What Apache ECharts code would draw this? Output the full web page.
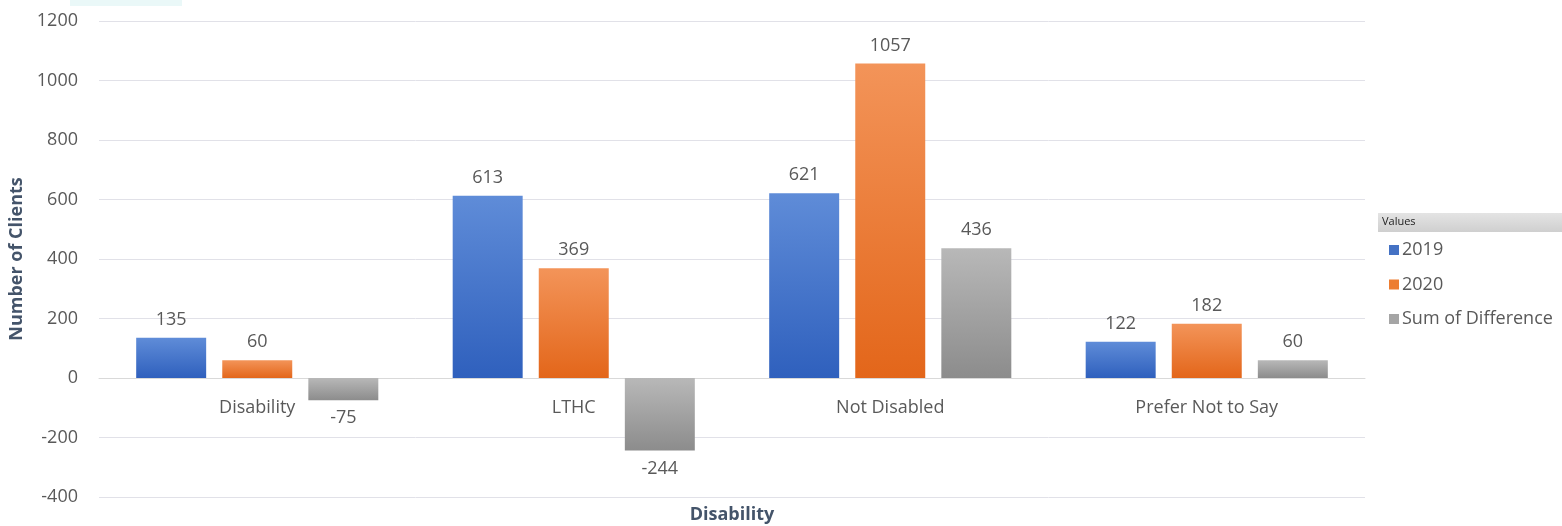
<!DOCTYPE html>
<html>
<head>
<meta charset="utf-8">
<script src="https://cdn.jsdelivr.net/npm/echarts@6/dist/echarts.min.js"></script>
<style>
  html, body { margin: 0; padding: 0; background: #ffffff; }
  #chart { width: 1562px; height: 526px; }
</style>
</head>
<body>
<div id="chart"></div>
<script>
// Clients by disability status, 2019 vs 2020, and the change between them
const categories = ['Disability', 'LTHC', 'Not Disabled', 'Prefer Not to Say'];
const clients2019 = [135, 613, 621, 122];
const clients2020 = [60, 369, 1057, 182];
const difference = [-75, -244, 436, 60];
const seriesNames = ['2019', '2020', 'Sum of Difference'];
const yTicks = { min: -400, max: 1200, interval: 200 };

const FONT = '"Open Sans", "Noto Sans", sans-serif';
const TEXT = '#595959';
const W = 1562, H = 526;
const GRID = { left: 99, right: 197, top: 21, bottom: 29 };

function grad(top, bottom) {
  return new echarts.graphic.LinearGradient(0, 0, 0, 1, [
    { offset: 0, color: top },
    { offset: 1, color: bottom }
  ]);
}

// negative values get their label beneath the bar
function withLabels(values) {
  return values.map(v => ({
    value: v,
    label: { position: v < 0 ? 'bottom' : 'top' }
  }));
}

const colors = [
  { top: '#5f8cd8', bottom: '#2f60bd', legend: '#4472c4' },
  { top: '#f39459', bottom: '#e3661a', legend: '#ed7d31' },
  { top: '#b8b8b8', bottom: '#8c8c8c', legend: '#a5a5a5' }
];

const values = [clients2019, clients2020, difference];

// lift the category axis from the bottom of the plot up to the zero line
const plotH = H - GRID.top - GRID.bottom;
const zeroLift = plotH * (0 - yTicks.min) / (yTicks.max - yTicks.min);

const chart = echarts.init(document.getElementById('chart'));
chart.setOption({
  animation: false,
  textStyle: { fontFamily: FONT },
  grid: Object.assign({ containLabel: false, outerBoundsMode: 'none' }, GRID),
  legend: {
    orient: 'vertical',
    left: 1384,
    top: 236,
    itemWidth: 10,
    itemHeight: 10,
    itemGap: 16.5,
    icon: 'rect',
    textStyle: { fontFamily: FONT, fontSize: 18, color: TEXT, padding: [0, 0, 0, -2] },
    data: seriesNames.map((n, i) => ({ name: n, itemStyle: { color: colors[i].legend } }))
  },
  xAxis: {
    type: 'category',
    data: categories,
    position: 'bottom',
    offset: -zeroLift,
    axisLine: { onZero: false, lineStyle: { color: '#d9d9d9' } },
    axisTick: { show: false },
    axisLabel: { color: TEXT, fontSize: 18, margin: 21, fontFamily: FONT }
  },
  yAxis: {
    type: 'value',
    min: yTicks.min,
    max: yTicks.max,
    interval: yTicks.interval,
    name: 'Number of Clients',
    nameLocation: 'middle',
    nameGap: 70,
    nameTextStyle: { color: '#44546a', fontSize: 18, fontWeight: 'bold', fontFamily: FONT },
    axisLine: { show: false },
    axisTick: { show: false },
    axisLabel: {
      color: TEXT, fontSize: 18, margin: 21, fontFamily: FONT,
      formatter: v => String(v)
    },
    splitLine: { lineStyle: { color: '#e1e1e8' } }
  },
  series: values.map((vals, i) => ({
    name: seriesNames[i],
    type: 'bar',
    data: withLabels(vals),
    barGap: '23%',
    barCategoryGap: '23.5%',
    itemStyle: { color: grad(colors[i].top, colors[i].bottom) },
    label: {
      show: true,
      distance: 9,
      color: TEXT,
      fontSize: 18,
      fontFamily: FONT
    }
  })),
  graphic: [
    {
      type: 'rect',
      shape: { x: 70, y: 0, width: 112, height: 6 },
      style: { fill: '#eaf8f8' }
    },
    {
      type: 'rect',
      shape: { x: 1378, y: 213, width: 184, height: 19 },
      style: { fill: grad('#e4e4e4', '#cfcfcf') }
    },
    {
      type: 'text',
      x: 1382,
      y: 222,
      style: { text: 'Values', fontSize: 11, fill: '#222', fontFamily: FONT, verticalAlign: 'middle' }
    },
    {
      type: 'text',
      x: 732,
      y: 515,
      style: {
        text: 'Disability', fontSize: 18, fontWeight: 'bold', fill: '#44546a',
        fontFamily: FONT, align: 'center', verticalAlign: 'middle'
      }
    }
  ]
});
</script>
</body>
</html>
